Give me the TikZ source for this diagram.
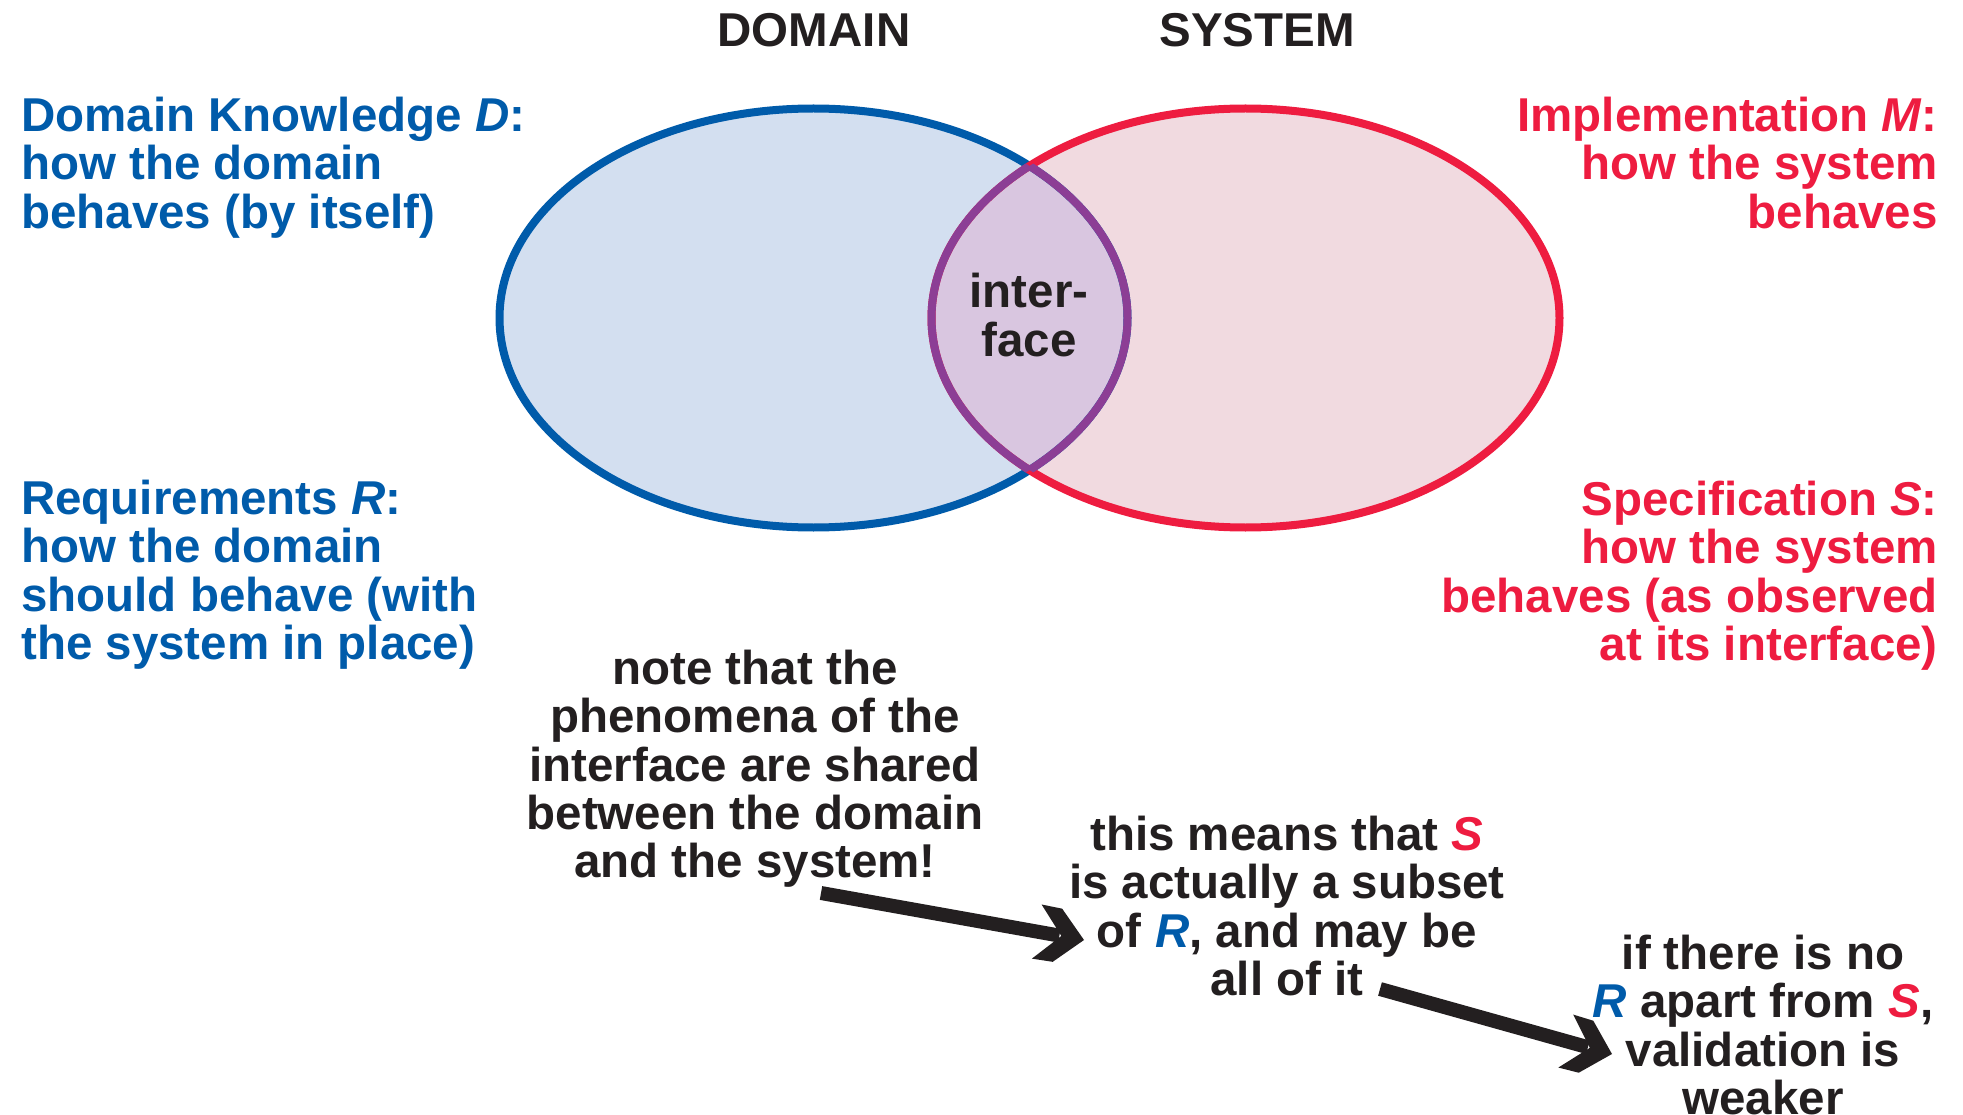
\documentclass[tikz,border=0pt]{standalone}
\usepackage{fontspec}
\setmainfont{Liberation Sans}
\usetikzlibrary{arrows.meta}
\definecolor{dblue}{HTML}{005BAA}
\definecolor{sred}{HTML}{EE1C40}
\definecolor{ink}{HTML}{231F20}
\definecolor{lensline}{HTML}{8C3E95}
\definecolor{bluefill}{HTML}{D3DFF0}
\definecolor{redfill}{HTML}{F1DAE0}
\definecolor{lensfill}{HTML}{D9C6E0}
% blunt chevron head for the thick note arrows
\pgfdeclarearrow{
  name = Chevron,
  setup code = {
    \pgfarrowssettipend{0pt}
    \pgfarrowssetlineend{-25pt}
    \pgfarrowssetvisualbackend{-48pt}
    \pgfarrowssetbackend{-48pt}
    \pgfarrowshullpoint{0pt}{0pt}
    \pgfarrowsupperhullpoint{-48pt}{27.5pt}
  },
  drawing code = {
    \pgfpathmoveto{\pgfpoint{0pt}{0pt}}
    \pgfpathlineto{\pgfpoint{-27pt}{27pt}}
    \pgfpathlineto{\pgfpoint{-48pt}{27.5pt}}
    \pgfpathlineto{\pgfpoint{-23pt}{0pt}}
    \pgfpathlineto{\pgfpoint{-48pt}{-27.5pt}}
    \pgfpathlineto{\pgfpoint{-27pt}{-27pt}}
    \pgfpathclose
    \pgfusepathqfill
  },
}
\begin{document}
\begin{tikzpicture}[x=1pt,y=-1pt,
  txt/.style={font=\bfseries\fontsize{47.5}{48.3}\selectfont, inner sep=0pt, text=ink},
  domtxt/.style={txt, text=dblue, align=left},
  systxt/.style={txt, text=sred, align=right},
  notetxt/.style={txt, align=center},
  ring/.style={line width=8pt},
  fatarrow/.style={ink, line width=14pt, -Chevron}]
\useasboundingbox (0,0) rectangle (1963,1115);

% the two sets and their overlap
\coordinate (dc) at (813.5,318);
\coordinate (sc) at (1245.5,318);
\fill[bluefill] (dc) ellipse [x radius=314, y radius=209.5];
\fill[redfill] (sc) ellipse [x radius=314, y radius=209.5];
\begin{scope}
  \clip (dc) ellipse [x radius=314, y radius=209.5];
  \fill[lensfill] (sc) ellipse [x radius=314, y radius=209.5];
\end{scope}
\draw[ring, dblue] (dc) ellipse [x radius=314, y radius=209.5];
\draw[ring, sred] (sc) ellipse [x radius=314, y radius=209.5];
\begin{scope}
  \clip (dc) ellipse [x radius=314, y radius=209.5];
  \draw[ring, lensline] (sc) ellipse [x radius=314, y radius=209.5];
\end{scope}
\begin{scope}
  \clip (sc) ellipse [x radius=314, y radius=209.5];
  \draw[ring, lensline] (dc) ellipse [x radius=314, y radius=209.5];
\end{scope}

% headings
\node[txt, anchor=north] (hdom) at (814,13) {DOMAIN};
\node[txt, anchor=north] (hsys) at (1257,13) {SYSTEM};

% side descriptions
\node[domtxt, anchor=north west] (dk) at (21,97)
  {Domain Knowledge \textit{D}:\\how the domain\\behaves (by itself)};
\node[domtxt, anchor=north west] (req) at (21,480)
  {Requirements \textit{R}:\\how the domain\\should behave (with\\the system in place)};
\node[systxt, anchor=north east] (impl) at (1938,97)
  {Implementation \textit{M}:\\how the system\\behaves};
\node[systxt, anchor=north east] (spec) at (1938,481)
  {Specification \textit{S}:\\how the system\\behaves (as observed\\at its interface)};

% overlap label
\node[notetxt] (iface) at (1029,315) {inter-\\face};

% notes below
\node[notetxt, anchor=north] (note) at (755,650)
  {note that the\\phenomena of the\\interface are shared\\between the domain\\and the system!};
\node[notetxt, anchor=north] (means) at (1287,816)
  {this means that \textcolor{sred}{\textit{S}}\\is actually a subset\\of \textcolor{dblue}{\textit{R}}, and may be\\all of it};
\node[notetxt, anchor=north] (weak) at (1763,935)
  {if there is no\\\textcolor{dblue}{\textit{R}} apart from \textcolor{sred}{\textit{S}},\\validation is\\weaker};

% arrows linking the notes
\coordinate (a1s) at (821,893);
\coordinate (a1e) at (1084,940);
\coordinate (a2s) at (1380,989);
\coordinate (a2e) at (1612,1054);
\draw[fatarrow] (a1s) -- (a1e);
\draw[fatarrow] (a2s) -- (a2e);
\end{tikzpicture}
\end{document}
